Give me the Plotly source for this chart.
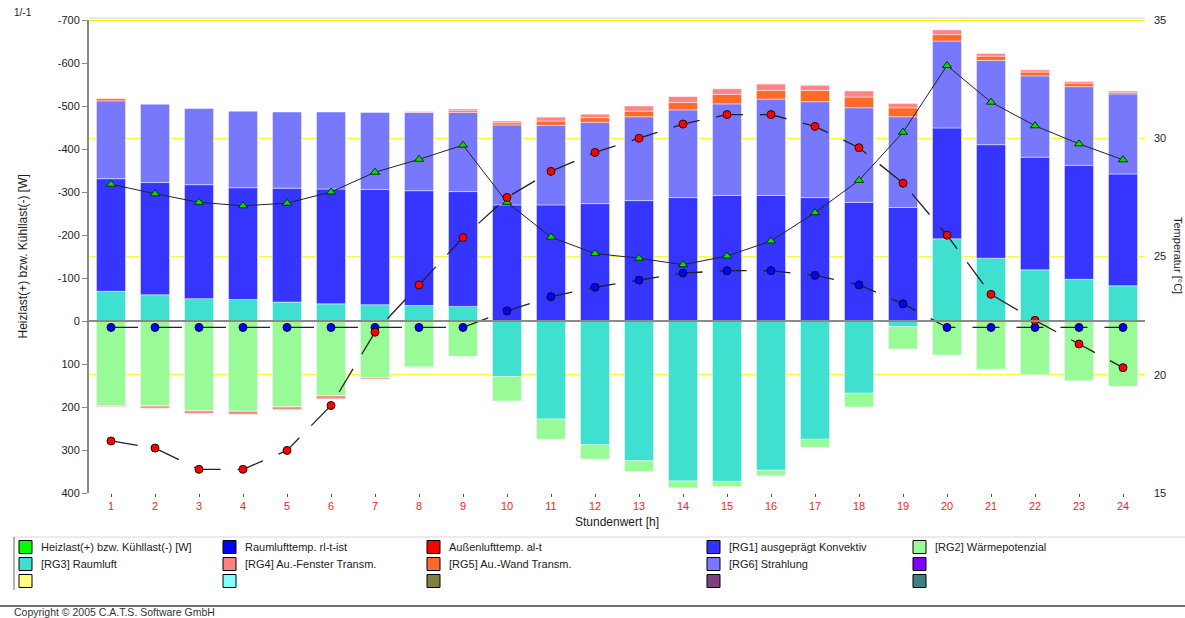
import plotly.graph_objects as go

# Stundenwerte
hours = list(range(1, 25))

# Lastanteile je Stunde [W]; negativ = Kühllast (oben), positiv = Heizlast (unten)
rg3_raumluft = [-69, -61, -52, -50, -44, -40, -38, -36, -34, 129, 228, 288,
                325, 372, 373, 347, 275, 168, 13, -191, -146, -119, -97, -82]
rg1_konvektiv = [-262, -261, -265, -260, -265, -267, -268, -267, -267, -270, -270, -273,
                 -280, -287, -292, -292, -287, -276, -264, -258, -264, -262, -265, -260]
rg2_waermepotenzial = [197, 198, 209, 210, 200, 174, 132, 107, 82, 57, 47, 33,
                       25, 16, 12, 13, 19, 32, 52, 79, 112, 125, 139, 152]
rg6_strahlung = [-181, -182, -177, -178, -177, -179, -179, -182, -184, -186, -185, -189,
                 -195, -204, -213, -224, -223, -220, -211, -202, -196, -189, -183, -186]
rg5_wand = [-5, 0, 0, 0, 0, 0, 0, 0, -4, -5, -10, -11,
            -13, -17, -22, -20, -26, -25, -21, -15, -10, -9, -8, -4]
rg4_fenster = [2, 5, 6, 7, 6, 7, 3, -2, -4, -4, -9, -8,
               -12, -14, -13, -15, -12, -14, -10, -11, -6, -5, -4, -3]

# Heizlast(+) bzw. Kühllast(-) [W]
heizlast = [-318, -296, -276, -268, -274, -300, -346, -376, -409, -276, -195, -157,
            -146, -131, -151, -186, -252, -327, -439, -594, -509, -454, -412, -375]

# Temperaturen [°C]
raumluft_temp = [22.0, 22.0, 22.0, 22.0, 22.0, 22.0, 22.0, 22.0, 22.0, 22.7, 23.3, 23.7,
                 24.0, 24.3, 24.4, 24.4, 24.2, 23.8, 23.0, 22.0, 22.0, 22.0, 22.0, 22.0]
aussenluft_temp = [17.2, 16.9, 16.0, 16.0, 16.8, 18.7, 21.8, 23.8, 25.8, 27.5, 28.6, 29.4,
                   30.0, 30.6, 31.0, 31.0, 30.5, 29.6, 28.1, 25.9, 23.4, 22.3, 21.3, 20.3]

load_ticks = [-700, -600, -500, -400, -300, -200, -100, 0, 100, 200, 300, 400]
load_tick_text = ["-700", "-600", "-500", "-400", "-300", "-200", "-100", "0", "100", "200", "300", "400"]
temp_ticks = [15, 20, 25, 30, 35]

legend_names = [
    "Heizlast(+) bzw. Kühllast(-) [W]", "Raumlufttemp. rl-t-ist", "Außenlufttemp. al-t",
    "[RG1] ausgeprägt Konvektiv", "[RG2] Wärmepotenzial",
    "[RG3] Raumluft", "[RG4] Au.-Fenster Transm.", "[RG5] Au.-Wand Transm.",
    "[RG6] Strahlung", "",
    "", "", "", "", "",
]
legend_colors = [
    "#00ff00", "#0000ff", "#ff0000", "#3333ff", "#98fb98",
    "#40e0d0", "#ff8080", "#ff6a2a", "#7777ff", "#8000ff",
    "#ffff80", "#80ffff", "#808040", "#804080", "#408080",
]

FONT = "Liberation Sans, Arial, sans-serif"
W, H = 1185, 618
ML, MR, MT, MB = 89, 40, 20, 125
PW, PH = W - ML - MR, H - MT - MB


def px(x):
    return (x - ML) / PW


def py(y):
    return (H - MB - y) / PH


fig = go.Figure()

bar_series = [
    ("[RG3] Raumluft", rg3_raumluft, "#40e0d0"),
    ("[RG1] ausgeprägt Konvektiv", rg1_konvektiv, "#3535ff"),
    ("[RG2] Wärmepotenzial", rg2_waermepotenzial, "#98fb98"),
    ("[RG6] Strahlung", rg6_strahlung, "#7878fc"),
    ("[RG5] Au.-Wand Transm.", rg5_wand, "#ff6a2a"),
    ("[RG4] Au.-Fenster Transm.", rg4_fenster, "#ff8484"),
]
for name, vals, col in bar_series:
    fig.add_trace(go.Bar(
        x=hours, y=vals, name=name, yaxis="y",
        marker=dict(color=col, line=dict(color="rgba(255,255,255,0.45)", width=1)),
        showlegend=False,
    ))

# Gesamtlast
fig.add_trace(go.Scatter(
    x=hours, y=heizlast, yaxis="y", mode="lines+markers", showlegend=False,
    line=dict(color="#222222", width=1),
    marker=dict(symbol="triangle-up", size=8, color="#00e000", line=dict(color="#003300", width=1)),
))
# Raumlufttemperatur
fig.add_trace(go.Scatter(
    x=hours, y=raumluft_temp, yaxis="y2", mode="lines+markers", showlegend=False,
    line=dict(color="#222222", width=1.3, dash="27px,17px"),
    marker=dict(symbol="circle", size=8, color="#0000ff", line=dict(color="#000033", width=1)),
))
# Außenlufttemperatur
fig.add_trace(go.Scatter(
    x=hours, y=aussenluft_temp, yaxis="y2", mode="lines+markers", showlegend=False,
    line=dict(color="#222222", width=1.3, dash="27px,17px"),
    marker=dict(symbol="circle", size=8, color="#ff0000", line=dict(color="#330000", width=1)),
))

shapes = [
    # Nulllinie über den Balken
    dict(type="line", xref="paper", yref="y", x0=0, x1=1, y0=0, y1=0,
         line=dict(color="#8a8a8a", width=2), layer="above"),
    # obere Begrenzung
    dict(type="line", xref="paper", yref="y2", x0=0, x1=1, y0=35, y1=35,
         line=dict(color="#f4f400", width=2), layer="below"),
    dict(type="line", xref="paper", yref="paper", x0=0, x1=1, y0=py(18), y1=py(18),
         line=dict(color="#d0d0d0", width=1), layer="below"),
    # Legendenrahmen
    dict(type="line", xref="paper", yref="paper", x0=px(14), x1=px(1185), y0=py(537), y1=py(537),
         line=dict(color="#d8d8d8", width=1)),
    dict(type="line", xref="paper", yref="paper", x0=px(14), x1=px(14), y0=py(537), y1=py(590),
         line=dict(color="#9a9a9a", width=1.5)),
    dict(type="line", xref="paper", yref="paper", x0=px(0), x1=px(1185), y0=py(606), y1=py(606),
         line=dict(color="#707070", width=2)),
]

annotations = [
    dict(text="1/-1", xref="paper", yref="paper", x=px(12), y=py(12), xanchor="left", yanchor="middle",
         showarrow=False, font=dict(family=FONT, size=10, color="#222")),
    dict(text="Heizlast(+) bzw. Kühllast(-) [W]", xref="paper", yref="paper", x=px(22), y=0.5,
         textangle=-90, showarrow=False, xanchor="center", yanchor="middle",
         font=dict(family=FONT, size=12, color="#222")),
    dict(text="Temperatur [°C]", xref="paper", yref="paper", x=px(1178), y=py(255),
         textangle=90, showarrow=False, xanchor="center", yanchor="middle",
         font=dict(family=FONT, size=11, color="#222")),
    dict(text="Stundenwert [h]", xref="paper", yref="paper", x=px(617), y=py(522),
         showarrow=False, xanchor="center", yanchor="middle",
         font=dict(family=FONT, size=12, color="#222")),
    dict(text="Copyright © 2005 C.A.T.S. Software GmbH", xref="paper", yref="paper", x=px(12), y=py(612),
         showarrow=False, xanchor="left", yanchor="middle",
         font=dict(family=FONT, size=10.5, color="#333")),
]

col_x = [19, 223, 427, 707, 913]
row_y = [547, 564, 581]
for i, (name, col) in enumerate(zip(legend_names, legend_colors)):
    cx = col_x[i % 5]
    cy = row_y[i // 5]
    shapes.append(dict(type="rect", xref="paper", yref="paper",
                       x0=px(cx), x1=px(cx + 13), y0=py(cy - 6.5), y1=py(cy + 6.5),
                       fillcolor=col, line=dict(color="#000000", width=1)))
    if name:
        annotations.append(dict(text=name, xref="paper", yref="paper", x=px(cx + 20), y=py(cy),
                                xanchor="left", yanchor="middle", showarrow=False,
                                font=dict(family=FONT, size=11, color="#222")))

fig.update_layout(
    width=W, height=H,
    margin=dict(l=ML, r=MR, t=MT, b=MB),
    paper_bgcolor="white", plot_bgcolor="white",
    barmode="relative", bargap=0.34,
    font=dict(family=FONT, size=11, color="#222"),
    xaxis=dict(range=[0.5, 24.5], tickvals=hours, ticktext=[str(h) for h in hours],
               showgrid=False, zeroline=False, showline=False,
               ticks="outside", ticklen=3, tickcolor="#555", tickwidth=1,
               tickfont=dict(family=FONT, size=11, color="#ff2020")),
    yaxis=dict(range=[400, -700], tickvals=load_ticks, ticktext=load_tick_text,
               showgrid=False, zeroline=False, showline=True, linecolor="#8a8a8a", linewidth=2,
               ticks="outside", ticklen=5, tickcolor="#8a8a8a",
               tickfont=dict(family=FONT, size=11, color="#222")),
    yaxis2=dict(range=[15, 35], tickvals=temp_ticks, overlaying="y", side="right",
                showgrid=True, gridcolor="#f8f840", gridwidth=1, zeroline=False, showline=False,
                ticks="", ticklabelstandoff=8,
                tickfont=dict(family=FONT, size=11, color="#222")),
    shapes=shapes,
    annotations=annotations,
)

fig.write_html("out.html")
